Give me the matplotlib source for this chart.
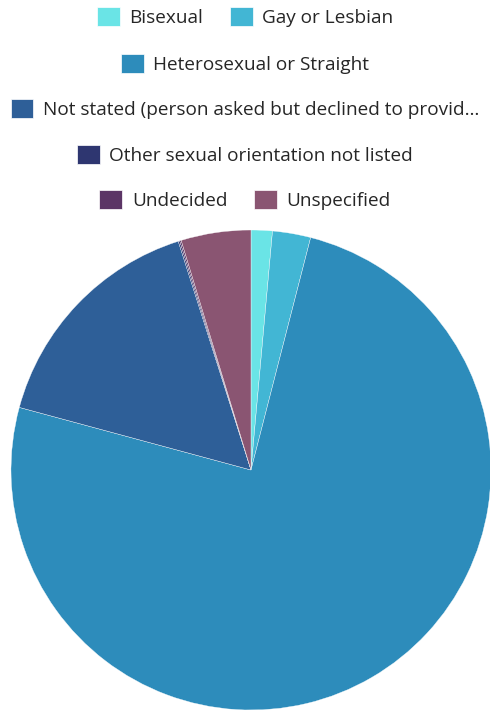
import matplotlib
matplotlib.use("Agg")
import matplotlib.pyplot as plt
from matplotlib.patches import Patch

plt.rcParams['font.family'] = ['Open Sans', 'DejaVu Sans']

labels = [
    "Bisexual",
    "Gay or Lesbian",
    "Heterosexual or Straight",
    "Not stated (person asked but declined to provid\u2026",
    "Other sexual orientation not listed",
    "Undecided",
    "Unspecified",
]
shares = [1.43, 2.57, 75.2, 15.9, 0.1, 0.1, 4.7]
colors = ["#6ae4e6", "#42b6d4", "#2d8cbb", "#2e5f98", "#2e3670", "#5c3566", "#8a5572"]

# legend rows as laid out above the pie
rows = [[0, 1], [2], [3], [4], [5, 6]]
row_y = [0.976, 0.910, 0.847, 0.782, 0.719]

fig = plt.figure(figsize=(4.9, 7.11), dpi=100)
ax = fig.add_axes([11 / 490, 1 / 711, 480 / 490, 480 / 711])
ax.pie(shares, colors=colors, startangle=90, counterclock=False,
       wedgeprops=dict(edgecolor="white", linewidth=0.25))
ax.set_xlim(-1, 1)
ax.set_ylim(-1, 1)
ax.set_aspect("equal")
ax.axis("off")

for idx, y in zip(rows, row_y):
    handles = [Patch(facecolor=colors[i], edgecolor="white", linewidth=0.5) for i in idx]
    fig.legend(handles, [labels[i] for i in idx], loc="center", bbox_to_anchor=(0.5, y),
               ncol=len(idx), frameon=False, fontsize=13.7, labelcolor="#262626",
               handlelength=1.2, handleheight=1.2, handletextpad=0.5,
               columnspacing=1.4, borderpad=0, borderaxespad=0)

fig.savefig("out.png", dpi=100)
